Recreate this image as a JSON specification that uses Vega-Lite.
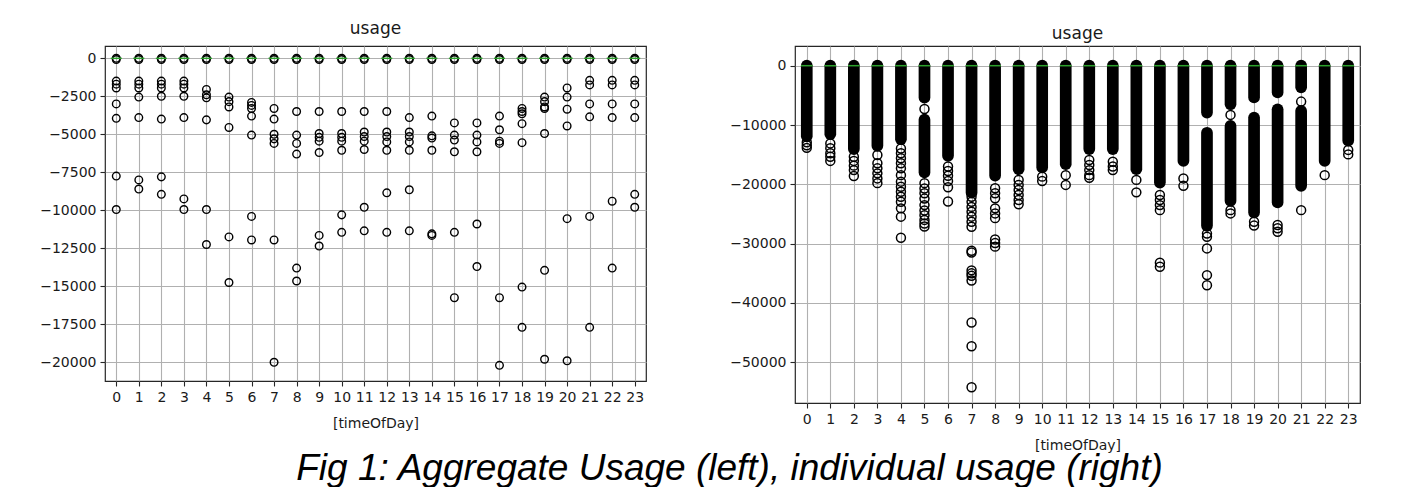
{
"$schema": "https://vega.github.io/schema/vega-lite/v6.json",
"padding": {"left": 38, "top": 19, "right": 5, "bottom": 0},
"title": {"text": "Fig 1: Aggregate Usage (left), individual usage (right)", "orient": "bottom", "anchor": "middle", "font": "Liberation Sans", "fontStyle": "italic", "fontWeight": "normal", "fontSize": 37, "color": "#000000", "baseline": "alphabetic", "offset": 27, "dx": 30},
"spacing": 81,
"columns": 2,
"align": "none",
"datasets": {
"med": [{"h":0,"v":0},{"h":1,"v":0},{"h":2,"v":0},{"h":3,"v":0},{"h":4,"v":0},{"h":5,"v":0},{"h":6,"v":0},{"h":7,"v":0},{"h":8,"v":0},{"h":9,"v":0},{"h":10,"v":0},{"h":11,"v":0},{"h":12,"v":0},{"h":13,"v":0},{"h":14,"v":0},{"h":15,"v":0},{"h":16,"v":0},{"h":17,"v":0},{"h":18,"v":0},{"h":19,"v":0},{"h":20,"v":0},{"h":21,"v":0},{"h":22,"v":0},{"h":23,"v":0}],
"agg": [
{"h":0,"v":0},{"h":0,"v":-80},{"h":0,"v":-1500},{"h":0,"v":-1700},{"h":0,"v":-1950},{"h":0,"v":-3000},{"h":0,"v":-3950},{"h":0,"v":-7750},{"h":0,"v":-9950},
{"h":1,"v":0},{"h":1,"v":-80},{"h":1,"v":-1500},{"h":1,"v":-1700},{"h":1,"v":-1950},{"h":1,"v":-2550},{"h":1,"v":-3900},{"h":1,"v":-8000},{"h":1,"v":-8600},
{"h":2,"v":0},{"h":2,"v":-80},{"h":2,"v":-1500},{"h":2,"v":-1700},{"h":2,"v":-1950},{"h":2,"v":-2500},{"h":2,"v":-4000},{"h":2,"v":-7800},{"h":2,"v":-8950},
{"h":3,"v":0},{"h":3,"v":-80},{"h":3,"v":-1500},{"h":3,"v":-1700},{"h":3,"v":-1950},{"h":3,"v":-2500},{"h":3,"v":-3900},{"h":3,"v":-9250},{"h":3,"v":-9950},
{"h":4,"v":0},{"h":4,"v":-80},{"h":4,"v":-2050},{"h":4,"v":-2400},{"h":4,"v":-2600},{"h":4,"v":-4050},{"h":4,"v":-9950},{"h":4,"v":-12250},
{"h":5,"v":0},{"h":5,"v":-80},{"h":5,"v":-2550},{"h":5,"v":-2850},{"h":5,"v":-3200},{"h":5,"v":-4550},{"h":5,"v":-11750},{"h":5,"v":-14750},
{"h":6,"v":0},{"h":6,"v":-80},{"h":6,"v":-2900},{"h":6,"v":-3100},{"h":6,"v":-3300},{"h":6,"v":-3800},{"h":6,"v":-5050},{"h":6,"v":-10400},{"h":6,"v":-11950},
{"h":7,"v":0},{"h":7,"v":-80},{"h":7,"v":-3300},{"h":7,"v":-4000},{"h":7,"v":-5000},{"h":7,"v":-5300},{"h":7,"v":-5600},{"h":7,"v":-11950},{"h":7,"v":-20000},
{"h":8,"v":0},{"h":8,"v":-80},{"h":8,"v":-3500},{"h":8,"v":-5050},{"h":8,"v":-5600},{"h":8,"v":-6300},{"h":8,"v":-13800},{"h":8,"v":-14650},
{"h":9,"v":0},{"h":9,"v":-80},{"h":9,"v":-3500},{"h":9,"v":-4950},{"h":9,"v":-5200},{"h":9,"v":-5450},{"h":9,"v":-6200},{"h":9,"v":-11650},{"h":9,"v":-12350},
{"h":10,"v":0},{"h":10,"v":-80},{"h":10,"v":-3500},{"h":10,"v":-4950},{"h":10,"v":-5200},{"h":10,"v":-5450},{"h":10,"v":-6050},{"h":10,"v":-10300},{"h":10,"v":-11450},
{"h":11,"v":0},{"h":11,"v":-80},{"h":11,"v":-3500},{"h":11,"v":-4850},{"h":11,"v":-5150},{"h":11,"v":-5450},{"h":11,"v":-6000},{"h":11,"v":-9800},{"h":11,"v":-11350},
{"h":12,"v":0},{"h":12,"v":-80},{"h":12,"v":-3500},{"h":12,"v":-4850},{"h":12,"v":-5150},{"h":12,"v":-5500},{"h":12,"v":-6050},{"h":12,"v":-8850},{"h":12,"v":-11450},
{"h":13,"v":0},{"h":13,"v":-80},{"h":13,"v":-3900},{"h":13,"v":-4850},{"h":13,"v":-5150},{"h":13,"v":-5500},{"h":13,"v":-6050},{"h":13,"v":-8650},{"h":13,"v":-11350},
{"h":14,"v":0},{"h":14,"v":-80},{"h":14,"v":-3800},{"h":14,"v":-5100},{"h":14,"v":-5250},{"h":14,"v":-6050},{"h":14,"v":-11550},{"h":14,"v":-11650},
{"h":15,"v":0},{"h":15,"v":-80},{"h":15,"v":-4250},{"h":15,"v":-5050},{"h":15,"v":-5380},{"h":15,"v":-6150},{"h":15,"v":-11450},{"h":15,"v":-15750},
{"h":16,"v":0},{"h":16,"v":-80},{"h":16,"v":-4250},{"h":16,"v":-5050},{"h":16,"v":-5500},{"h":16,"v":-6150},{"h":16,"v":-10900},{"h":16,"v":-13700},
{"h":17,"v":0},{"h":17,"v":-80},{"h":17,"v":-3800},{"h":17,"v":-4700},{"h":17,"v":-5450},{"h":17,"v":-5600},{"h":17,"v":-15750},{"h":17,"v":-20200},
{"h":18,"v":0},{"h":18,"v":-80},{"h":18,"v":-3300},{"h":18,"v":-3500},{"h":18,"v":-3650},{"h":18,"v":-4300},{"h":18,"v":-5550},{"h":18,"v":-15050},{"h":18,"v":-17700},
{"h":19,"v":0},{"h":19,"v":-80},{"h":19,"v":-2550},{"h":19,"v":-2850},{"h":19,"v":-3200},{"h":19,"v":-3300},{"h":19,"v":-4950},{"h":19,"v":-13950},{"h":19,"v":-19800},
{"h":20,"v":0},{"h":20,"v":-80},{"h":20,"v":-1950},{"h":20,"v":-2550},{"h":20,"v":-3350},{"h":20,"v":-4450},{"h":20,"v":-10550},{"h":20,"v":-19900},
{"h":21,"v":0},{"h":21,"v":-80},{"h":21,"v":-1450},{"h":21,"v":-1750},{"h":21,"v":-3000},{"h":21,"v":-3850},{"h":21,"v":-10400},{"h":21,"v":-17700},
{"h":22,"v":0},{"h":22,"v":-80},{"h":22,"v":-1450},{"h":22,"v":-1750},{"h":22,"v":-3000},{"h":22,"v":-3900},{"h":22,"v":-9400},{"h":22,"v":-13800},
{"h":23,"v":0},{"h":23,"v":-80},{"h":23,"v":-1450},{"h":23,"v":-1750},{"h":23,"v":-3000},{"h":23,"v":-3900},{"h":23,"v":-8950},{"h":23,"v":-9800}
],
"dense": [
{"h":0,"top":0,"bottom":-11900},{"h":1,"top":0,"bottom":-11550},{"h":2,"top":0,"bottom":-14050},{"h":3,"top":0,"bottom":-13500},{"h":4,"top":0,"bottom":-12400},
{"h":5,"top":0,"bottom":-5400},{"h":5,"top":-9100,"bottom":-18000},{"h":6,"top":0,"bottom":-15200},{"h":7,"top":0,"bottom":-21400},{"h":8,"top":0,"bottom":-18550},
{"h":9,"top":0,"bottom":-17450},{"h":10,"top":0,"bottom":-17150},{"h":11,"top":0,"bottom":-16600},{"h":12,"top":0,"bottom":-14050},{"h":13,"top":0,"bottom":-14050},
{"h":14,"top":0,"bottom":-17450},{"h":15,"top":0,"bottom":-19700},{"h":16,"top":0,"bottom":-16050},
{"h":17,"top":0,"bottom":-7900},{"h":17,"top":-11300,"bottom":-27000},
{"h":18,"top":0,"bottom":-6500},{"h":18,"top":-10150,"bottom":-22800},
{"h":19,"top":0,"bottom":-5350},{"h":19,"top":-8750,"bottom":-24750},
{"h":20,"top":0,"bottom":-4500},{"h":20,"top":-7350,"bottom":-23050},
{"h":21,"top":0,"bottom":-3650},{"h":21,"top":-7600,"bottom":-20250},
{"h":22,"top":0,"bottom":-16050},{"h":23,"top":0,"bottom":-12650}
],
"ind": [
{"h":0,"v":-12900},{"h":0,"v":-13400},{"h":0,"v":-13850},
{"h":1,"v":-13100},{"h":1,"v":-13900},{"h":1,"v":-14750},{"h":1,"v":-15350},{"h":1,"v":-16050},
{"h":2,"v":-15350},{"h":2,"v":-16050},{"h":2,"v":-16850},{"h":2,"v":-17600},{"h":2,"v":-18600},
{"h":3,"v":-15050},{"h":3,"v":-16450},{"h":3,"v":-17300},{"h":3,"v":-18150},{"h":3,"v":-19000},{"h":3,"v":-19800},
{"h":4,"v":-13950},{"h":4,"v":-14750},{"h":4,"v":-15600},{"h":4,"v":-16450},{"h":4,"v":-17300},{"h":4,"v":-18450},{"h":4,"v":-19550},{"h":4,"v":-20400},{"h":4,"v":-21250},{"h":4,"v":-22100},{"h":4,"v":-22950},{"h":4,"v":-24050},{"h":4,"v":-25450},{"h":4,"v":-29000},
{"h":5,"v":-7300},{"h":5,"v":-19800},{"h":5,"v":-20700},{"h":5,"v":-21500},{"h":5,"v":-22400},{"h":5,"v":-23500},{"h":5,"v":-24400},{"h":5,"v":-25200},{"h":5,"v":-26000},{"h":5,"v":-26600},{"h":5,"v":-27100},
{"h":6,"v":-17000},{"h":6,"v":-17750},{"h":6,"v":-18550},{"h":6,"v":-19450},{"h":6,"v":-20500},{"h":6,"v":-22900},
{"h":7,"v":-22100},{"h":7,"v":-22950},{"h":7,"v":-23800},{"h":7,"v":-24600},{"h":7,"v":-25450},{"h":7,"v":-26300},{"h":7,"v":-27150},{"h":7,"v":-31200},{"h":7,"v":-31500},{"h":7,"v":-34500},{"h":7,"v":-35000},{"h":7,"v":-35400},{"h":7,"v":-36200},{"h":7,"v":-43300},{"h":7,"v":-47300},{"h":7,"v":-54200},
{"h":8,"v":-20650},{"h":8,"v":-21500},{"h":8,"v":-22350},{"h":8,"v":-24050},{"h":8,"v":-24900},{"h":8,"v":-25700},{"h":8,"v":-29300},{"h":8,"v":-29900},{"h":8,"v":-30500},
{"h":9,"v":-19250},{"h":9,"v":-20100},{"h":9,"v":-20950},{"h":9,"v":-21800},{"h":9,"v":-22650},{"h":9,"v":-23350},
{"h":10,"v":-18700},{"h":10,"v":-19450},
{"h":11,"v":-18450},{"h":11,"v":-20100},
{"h":12,"v":-15900},{"h":12,"v":-16750},{"h":12,"v":-17600},{"h":12,"v":-18450},{"h":12,"v":-18900},
{"h":13,"v":-16200},{"h":13,"v":-17000},{"h":13,"v":-17600},
{"h":14,"v":-19250},{"h":14,"v":-21350},
{"h":15,"v":-21800},{"h":15,"v":-22650},{"h":15,"v":-23500},{"h":15,"v":-24350},{"h":15,"v":-33200},{"h":15,"v":-33900},
{"h":16,"v":-19000},{"h":16,"v":-20250},
{"h":17,"v":-28300},{"h":17,"v":-28850},{"h":17,"v":-30800},{"h":17,"v":-35300},{"h":17,"v":-37000},
{"h":18,"v":-8300},{"h":18,"v":-24350},{"h":18,"v":-24900},
{"h":19,"v":-26300},{"h":19,"v":-26950},
{"h":20,"v":-26850},{"h":20,"v":-27400},{"h":20,"v":-28000},
{"h":21,"v":-6050},{"h":21,"v":-24350},
{"h":22,"v":-18450},
{"h":23,"v":-14200},{"h":23,"v":-14950}
]
},
"concat": [
{
"width": 541, "height": 335,
"title": {"text": "usage", "offset": -9, "baseline": "bottom"},
"encoding": {"x": {"field": "h", "type": "ordinal", "scale": {"type": "point", "padding": 0.5, "domain": [0,1,2,3,4,5,6,7,8,9,10,11,12,13,14,15,16,17,18,19,20,21,22,23]}, "axis": {"title": "[timeOfDay]"}}},
"layer": [
{"data": {"name": "agg"}, "mark": {"type": "point", "shape": "circle", "filled": false, "stroke": "#000000", "strokeWidth": 1.4, "size": 58, "opacity": 1},
 "encoding": {"y": {"field": "v", "type": "quantitative", "scale": {"domain": [-21230, 810], "nice": false, "zero": false}, "axis": {"title": null, "values": [-20000,-17500,-15000,-12500,-10000,-7500,-5000,-2500,0], "format": "d"}}}},
{"data": {"name": "med"}, "mark": {"type": "tick", "color": "#2ca02c", "size": 11, "thickness": 1.5, "opacity": 1},
 "encoding": {"y": {"field": "v", "type": "quantitative"}}}
]
},
{
"width": 565, "height": 357,
"title": {"text": "usage", "offset": -14, "baseline": "bottom"},
"encoding": {"x": {"field": "h", "type": "ordinal", "scale": {"type": "point", "padding": 0.5, "domain": [0,1,2,3,4,5,6,7,8,9,10,11,12,13,14,15,16,17,18,19,20,21,22,23]}, "axis": {"title": "[timeOfDay]"}}},
"layer": [
{"data": {"name": "dense"}, "mark": {"type": "rule", "strokeWidth": 11.7, "strokeCap": "round", "color": "#000000", "opacity": 1},
 "encoding": {"y": {"field": "top", "type": "quantitative", "scale": {"domain": [-56860, 3320], "nice": false, "zero": false}, "axis": {"title": null, "values": [-50000,-40000,-30000,-20000,-10000,0], "format": "d"}}, "y2": {"field": "bottom"}}},
{"data": {"name": "ind"}, "mark": {"type": "point", "shape": "circle", "filled": false, "stroke": "#000000", "strokeWidth": 1.5, "size": 80, "opacity": 1},
 "encoding": {"y": {"field": "v", "type": "quantitative"}}},
{"data": {"name": "med"}, "mark": {"type": "tick", "color": "#2ca02c", "size": 11.7, "thickness": 1.5, "opacity": 1},
 "encoding": {"y": {"field": "v", "type": "quantitative"}}}
]
}
],
"config": {
"view": {"stroke": "#262626", "strokeWidth": 1.2},
"axis": {"domain": false, "grid": true, "gridColor": "#b0b0b0", "gridWidth": 1.1, "gridOpacity": 1, "ticks": true, "tickColor": "#262626", "tickSize": 5, "tickWidth": 1.1, "labelFont": "DejaVu Sans", "labelFontSize": 14, "labelColor": "#1a1a1a", "titleFont": "DejaVu Sans", "titleFontSize": 14, "titleFontWeight": "normal", "titleColor": "#1a1a1a", "labelPadding": 4, "labelOverlap": false},
"axisX": {"labelAngle": 0, "titlePadding": 12},
"axisY": {"minExtent": 66, "maxExtent": 66, "labelFlush": false},
"title": {"font": "DejaVu Sans", "fontSize": 17, "fontWeight": "normal", "color": "#1a1a1a"}
}
}
